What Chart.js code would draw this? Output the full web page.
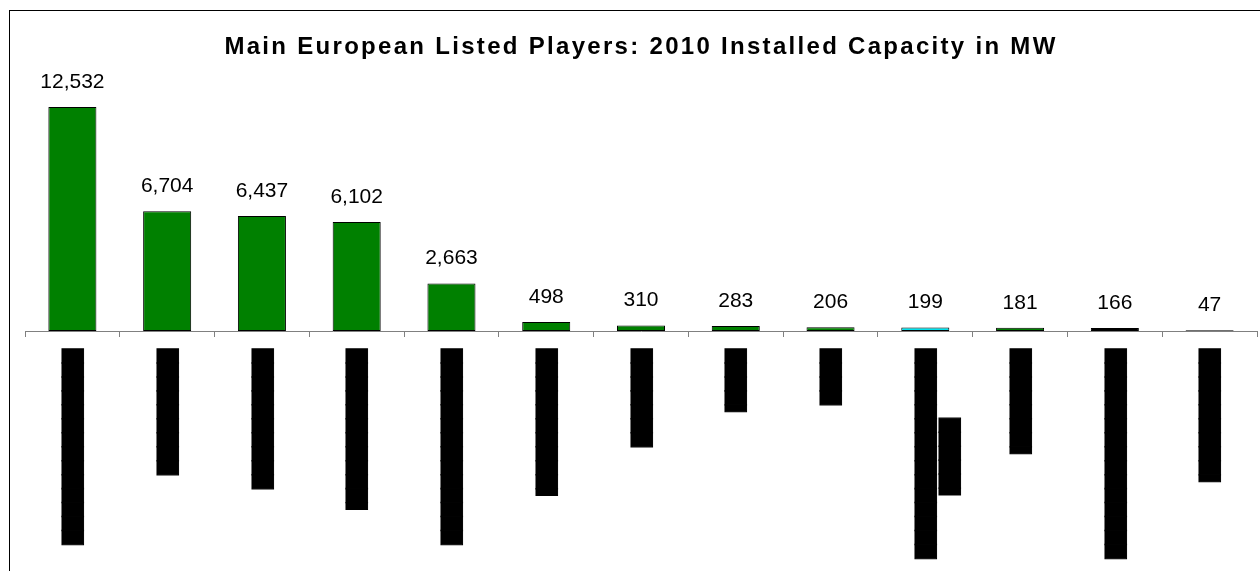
<!DOCTYPE html>
<html>
<head>
<meta charset="utf-8">
<script src="https://cdn.jsdelivr.net/npm/chart.js@4/dist/chart.umd.min.js"></script>
<style>
  html, body { margin: 0; padding: 0; background: #fff; overflow: hidden; }
  #frame { position: absolute; left: 9px; top: 10px; width: 1251px; height: 561px;
           border-left: 1px solid #000; border-top: 1px solid #000; box-sizing: border-box; }
  #wrap { position: absolute; left: 10px; top: 11px; width: 1250px; height: 560px; }
</style>
</head>
<body>
<div id="frame"></div>
<div id="wrap"><canvas id="c"></canvas></div>
<script>
// ---- data ----
const chartTitle = 'Main European Listed Players: 2010 Installed Capacity in MW';

// Company names are redacted (blacked out) in the source picture
const categories = [
  '██████████████',
  '█████████',
  '██████████',
  '▐███████████',
  '██████████████',
  '▐██████████',
  '███████',
  '▐████',
  '████',
  ['███████████████', '▐█████            '],
  '▐███████',
  '███████████████',
  '▐█████████'
];

const capacityMW = [12532, 6704, 6437, 6102, 2663, 498, 310, 283, 206, 199, 181, 166, 47];

const barColors = ['#008000', '#008000', '#008000', '#008000', '#008000', '#008000',
                   '#008000', '#008000', '#008000', '#00E5F0', '#008000', '#000000', '#008000'];

const yMax = 14000;

// ---- plugins ----
const titleSpacing = {
  id: 'titleSpacing',
  beforeDraw(chart) { chart.ctx.letterSpacing = '2.3px'; },
  beforeDatasetsDraw(chart) { chart.ctx.letterSpacing = '0px'; }
};

const valueLabels = {
  id: 'valueLabels',
  afterDatasetsDraw(chart) {
    const ctx = chart.ctx;
    const meta = chart.getDatasetMeta(0);
    ctx.save();
    ctx.letterSpacing = '0px';
    ctx.font = '21px "Liberation Sans", Arial, sans-serif';
    ctx.fillStyle = '#000';
    ctx.textAlign = 'center';
    ctx.textBaseline = 'alphabetic';
    meta.data.forEach((bar, i) => {
      ctx.fillText(capacityMW[i].toLocaleString('en-US'), bar.x, bar.y - 19);
    });
    ctx.restore();
  }
};

new Chart(document.getElementById('c'), {
  type: 'bar',
  data: {
    labels: categories,
    datasets: [{
      data: capacityMW,
      backgroundColor: barColors,
      borderColor: '#000',
      borderWidth: 1,
      borderSkipped: false,
      categoryPercentage: 1,
      barPercentage: 0.507
    }]
  },
  options: {
    responsive: true,
    maintainAspectRatio: false,
    animation: false,
    devicePixelRatio: 1,
    layout: { padding: { left: 15, right: 3, top: 0, bottom: 0 } },
    plugins: {
      legend: { display: false },
      tooltip: { enabled: false },
      title: {
        display: true,
        text: chartTitle,
        color: '#000',
        font: { family: '"Liberation Sans", Arial, sans-serif', size: 24, weight: 'bold', lineHeight: 1.2 },
        padding: { top: 22, bottom: 19 }
      }
    },
    scales: {
      x: {
        offset: true,
        grid: { offset: true, drawOnChartArea: false, drawTicks: true, tickLength: 6, color: '#808080', lineWidth: 1 },
        border: { display: true, color: '#808080', width: 1 },
        ticks: {
          z: 1,
          autoSkip: false,
          minRotation: 90,
          maxRotation: 90,
          padding: 12,
          labelOffset: 2,
          color: '#000',
          textStrokeColor: '#000',
          textStrokeWidth: 1,
          font: { family: '"DejaVu Sans"', size: 18.16, lineHeight: '24px' }
        },
        afterFit(scale) { scale.height = 240; }
      },
      y: { display: false, min: 0, max: yMax }
    }
  },
  plugins: [titleSpacing, valueLabels]
});
</script>
</body>
</html>
